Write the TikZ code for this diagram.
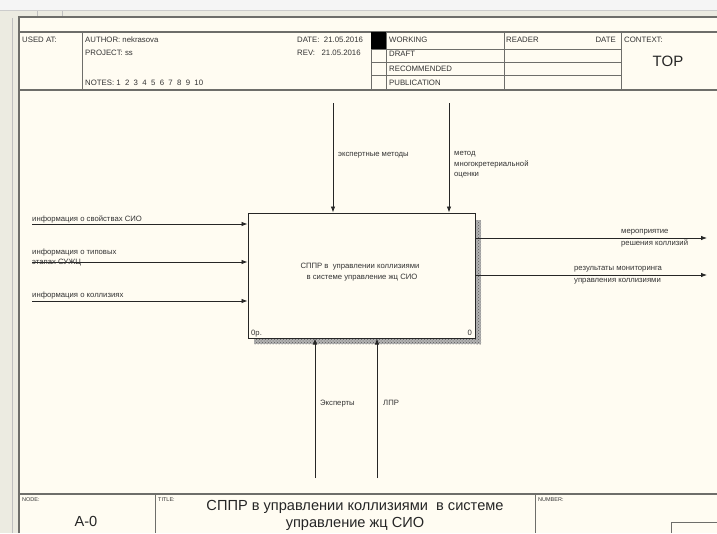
\documentclass[tikz,border=0pt]{standalone}
\usepackage{fontspec}
\setmainfont{Liberation Sans}
\usetikzlibrary{arrows.meta,patterns}
\definecolor{bgcream}{HTML}{FFFCF2}
\definecolor{stripgray}{HTML}{ECEBE1}
\definecolor{framegray}{HTML}{6E6E6A}
\tikzset{
  framel/.style={draw=framegray,line width=1.4pt},
  gridl/.style={draw=framegray,line width=1pt},
  arr/.style={draw=black!85,line width=0.8pt,-{Latex[length=6pt,width=4.5pt]}},
  lbl/.style={inner sep=0pt,anchor=base west,font=\fontsize{7.7}{9}\selectfont,text=black!80},
  hdr/.style={inner sep=0pt,anchor=base west,font=\fontsize{7.8}{9}\selectfont,text=black!80},
  tiny/.style={inner sep=0pt,anchor=base west,font=\fontsize{5.5}{6.5}\selectfont,text=black!80},
  big/.style={inner sep=0pt,anchor=base,font=\fontsize{14.6}{17}\selectfont,text=black!85},
  fbox/.style={draw=black!85,line width=1pt,fill=bgcream,minimum width=227pt,minimum height=125pt,inner sep=0pt},
  shadowfill/.style={fill=black!30,postaction={pattern=crosshatch dots,pattern color=black!65}}
}
\begin{document}
\begin{tikzpicture}[x=1pt,y=-1pt]
\useasboundingbox (0,0) rectangle (717,533);
% backgrounds
\fill[bgcream] (0,0) rectangle (717,533);
\fill[white!96!black] (0,0) rectangle (717,10);
\fill[stripgray] (0,10) rectangle (717,17);
\fill[stripgray] (0,17) rectangle (19,533);
\draw[black!25,line width=0.8pt] (12,18) -- (12,533);
\draw[black!25,line width=0.6pt] (37,10) -- (37,17) (62,10) -- (62,17);
\draw[black!20,line width=0.6pt] (0,10) -- (717,10);
% frame
\draw[framel] (19,533) -- (19,17) -- (717,17);
\draw[framel] (19,32) -- (717,32);
\draw[framel] (19,90) -- (717,90);
\draw[gridl] (82,32) -- (82,90);
\draw[gridl] (371,32) -- (371,90);
\draw[gridl] (386,32) -- (386,90);
\draw[gridl] (504,32) -- (504,90);
\draw[gridl] (621,32) -- (621,90);
\draw[gridl] (371,49) -- (621,49) (371,62) -- (621,62) (371,75) -- (621,75);
\fill[black] (371,32) rectangle (386,49);
% header texts
\node[hdr] (usedat) at (22,42) {USED AT:};
\node[hdr] (author) at (85,42) {AUTHOR:\ nekrasova};
\node[hdr] (project) at (85,55) {PROJECT:\ ss};
\node[hdr] (notes) at (85,85) {NOTES:\ 1\ \ 2\ \ 3\ \ 4\ \ 5\ \ 6\ \ 7\ \ 8\ \ 9\ \ 10};
\node[hdr] (date) at (297,42) {DATE:\ \ 21.05.2016};
\node[hdr] (rev) at (297,55) {REV:\ \ \ 21.05.2016};
\node[hdr] (working) at (389,42) {WORKING};
\node[hdr] (draft) at (389,56) {DRAFT};
\node[hdr] (recom) at (389,71) {RECOMMENDED};
\node[hdr] (publ) at (389,85) {PUBLICATION};
\node[hdr] (reader) at (506,42) {READER};
\node[hdr,anchor=base east] (rdate) at (616,42) {DATE};
\node[hdr] (context) at (624,42) {CONTEXT:};
\node[inner sep=0pt,anchor=base,font=\fontsize{15}{17}\selectfont,text=black!85] (top) at (668,66) {TOP};
% footer
\draw[framel] (19,494) -- (717,494);
\draw[gridl] (155,494) -- (155,533);
\draw[gridl] (535,494) -- (535,533);
\draw[gridl] (671,533) -- (671,522) -- (717,522);
\node[tiny] (nodel) at (22,501) {NODE:};
\node[tiny] (titlel) at (158,501) {TITLE:};
\node[tiny] (numberl) at (538,501) {NUMBER:};
\node[big] (nodenum) at (86,526) {A-0};
\node[big] (title1) at (355,510) {СППР в управлении коллизиями\ \ в системе};
\node[big] (title2) at (355,527) {управление жц СИО};
% shadow
\fill[shadowfill] (476,220) rectangle (481,344);
\fill[shadowfill] (254,339) rectangle (481,344);
% main box
\node[fbox] (A0) at (361.5,275.5) {};
\node[lbl,anchor=base] (bt1) at (360,268) {СППР в\ \ управлении коллизиями};
\node[lbl,anchor=base] (bt2) at (362,279) {в системе управление жц СИО};
\node[lbl] (opr) at (251,335) {0р.};
\node[lbl,anchor=base east] (zero) at (472,335) {0};
% inputs
\coordinate (i1) at (32,224);
\coordinate (i2) at (32,262);
\coordinate (i3) at (32,301);
\draw[arr] (i1) -- (i1 -| A0.west);
\draw[arr] (i2) -- (i2 -| A0.west);
\draw[arr] (i3) -- (i3 -| A0.west);
\node[lbl] (li1) at (32,221) {информация о свойствах СИО};
\node[lbl] (li2a) at (32,254) {информация о типовых};
\node[lbl] (li2b) at (32,264) {этапах СУЖЦ};
\node[lbl] (li3) at (32,297) {информация о коллизиях};
% controls
\coordinate (c1) at (333,103);
\coordinate (c2) at (449,103);
\draw[arr] (c1) -- (c1 |- A0.north);
\draw[arr] (c2) -- (c2 |- A0.north);
\node[lbl] (lc1) at (338,156) {экспертные методы};
\node[lbl] (lc2a) at (454,155) {метод};
\node[lbl] (lc2b) at (454,166) {многокретериальной};
\node[lbl] (lc2c) at (454,176) {оценки};
% mechanisms
\coordinate (m1) at (315,478);
\coordinate (m2) at (377,478);
\draw[arr] (m1) -- (m1 |- A0.south);
\draw[arr] (m2) -- (m2 |- A0.south);
\node[lbl] (lm1) at (320,405) {Эксперты};
\node[lbl] (lm2) at (383,405) {ЛПР};
% outputs
\coordinate (o1) at (707,238);
\coordinate (o2) at (707,275);
\draw[arr] (o1 -| A0.east) -- (o1);
\draw[arr] (o2 -| A0.east) -- (o2);
\node[lbl] (lo1a) at (621,233) {мероприятие};
\node[lbl] (lo1b) at (621,245) {решения коллизий};
\node[lbl] (lo2a) at (574,270) {результаты мониторинга};
\node[lbl] (lo2b) at (574,282) {управления коллизиями};
\end{tikzpicture}
\end{document}
